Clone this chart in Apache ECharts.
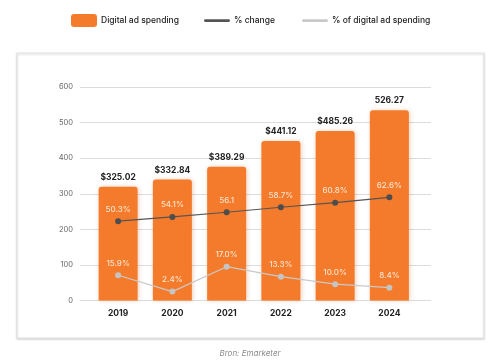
<!DOCTYPE html>
<html>
<head>
<meta charset="utf-8">
<script src="https://cdn.jsdelivr.net/npm/echarts@6/dist/echarts.min.js"></script>
<style>html,body{margin:0;padding:0;background:#fff}#c{width:500px;height:364px}</style>
</head>
<body>
<div id="c"></div>
<script>
// Data
const years = ['2019', '2020', '2021', '2022', '2023', '2024'];
// bar heights as drawn (on the 0-600 axis)
const spending = [320, 340, 376, 448, 476, 535];
const spendingLabels = ['$325.02', '$332.84', '$389.29', '$441.12', '$485.26', '526.27'];
// "% change" line as drawn (on the 0-600 axis)
const changeLine = [223, 235, 248, 262, 275, 290];
const changeLabels = ['50.3%', '54.1%', '56.1', '58.7%', '60.8%', '62.6%'];
// "% of digital ad spending" line as drawn (on the 0-600 axis)
const shareLine = [71, 25, 95, 67, 46, 36];
const shareLabels = ['15.9%', '2.4%', '17.0%', '13.3%', '10.0%', '8.4%'];
const yTicks = [0, 100, 200, 300, 400, 500, 600];

const ORANGE = '#F47B2B';
const FONT = 'Inter, Roboto, sans-serif';

const chart = echarts.init(document.getElementById('c'), null, {renderer: 'canvas'});
chart.setOption({
  backgroundColor: '#fff',
  animation: false,
  grid: [
    {left: 80, right: 69, top: 87, bottom: 63.5},
    {left: 91, right: 83.5, top: 87, bottom: 63.5}
  ],
  xAxis: [
    {gridIndex: 0, type: 'value', show: false, min: 0, max: 1},
    {gridIndex: 1, type: 'category', data: years,
      axisLine: {show: false}, axisTick: {show: false},
      axisLabel: {margin: 8, color: '#222', fontSize: 8.5, fontWeight: 'bold', fontFamily: FONT}}
  ],
  yAxis: [
    {gridIndex: 0, type: 'value', min: yTicks[0], max: yTicks[yTicks.length - 1], interval: 100,
      axisLine: {show: false}, axisTick: {show: false},
      axisLabel: {margin: 7, color: '#666', fontSize: 7.5, fontFamily: FONT},
      splitLine: {lineStyle: {color: '#dcdcdc', width: 1}}},
    {gridIndex: 1, type: 'value', min: yTicks[0], max: yTicks[yTicks.length - 1], show: false,
      splitLine: {show: false}}
  ],
  series: [
    {type: 'bar', xAxisIndex: 1, yAxisIndex: 1, data: spending, barWidth: 39,
      itemStyle: {color: ORANGE, borderRadius: [3, 3, 0, 0],
        shadowBlur: 4, shadowColor: 'rgba(200,90,20,0.3)', shadowOffsetX: 1},
      label: {show: true, position: 'top', distance: 5, color: '#222', fontSize: 8.5,
        fontWeight: 'bold', fontFamily: FONT,
        formatter: p => spendingLabels[p.dataIndex]}},
    {type: 'line', xAxisIndex: 1, yAxisIndex: 1, data: changeLine, z: 5,
      lineStyle: {color: '#555', width: 1.2},
      symbol: 'circle', symbolSize: 6, itemStyle: {color: '#4d4d4d'},
      label: {show: true, position: 'top', distance: 5, color: '#ffe2cc', fontSize: 8,
        fontWeight: 500, fontFamily: FONT,
        formatter: p => changeLabels[p.dataIndex]}},
    {type: 'line', xAxisIndex: 1, yAxisIndex: 1, data: shareLine, z: 5,
      lineStyle: {color: '#c9c9c9', width: 1.2},
      symbol: 'circle', symbolSize: 6, itemStyle: {color: '#c4c4c4'},
      label: {show: true, position: 'top', distance: 5, color: '#ffe2cc', fontSize: 8,
        fontWeight: 500, fontFamily: FONT,
        formatter: p => shareLabels[p.dataIndex]}}
  ],
  graphic: [
    {type: 'rect', shape: {x: 17, y: 53, width: 467, height: 285}, z: -10,
      style: {fill: '#fff', stroke: '#e4e4e4', lineWidth: 1.2,
        shadowBlur: 2, shadowOffsetY: 1.2, shadowColor: 'rgba(0,0,0,0.15)'}},
    // legend
    {type: 'rect', shape: {x: 71, y: 14, width: 26, height: 13, r: 3}, style: {fill: ORANGE}},
    {type: 'text', x: 101, y: 20.5, style: {text: 'Digital ad spending', fill: '#222',
      font: '500 8.5px ' + FONT, textVerticalAlign: 'middle'}},
    {type: 'rect', shape: {x: 204, y: 19.3, width: 26, height: 2.6, r: 1.3}, style: {fill: '#555'}},
    {type: 'text', x: 234, y: 20.5, style: {text: '% change', fill: '#222',
      font: '500 8.5px ' + FONT, textVerticalAlign: 'middle'}},
    {type: 'rect', shape: {x: 302, y: 19.3, width: 26, height: 2.6, r: 1.3}, style: {fill: '#c9c9c9'}},
    {type: 'text', x: 332, y: 20.5, style: {text: '% of digital ad spending', fill: '#222',
      font: '500 8.5px ' + FONT, textVerticalAlign: 'middle'}},
    {type: 'text', x: 250, y: 354, style: {text: 'Bron: Emarketer', fill: '#8a8a8a',
      font: 'italic 8px ' + FONT, textAlign: 'center', textVerticalAlign: 'middle'}}
  ]
});
</script>
</body>
</html>
